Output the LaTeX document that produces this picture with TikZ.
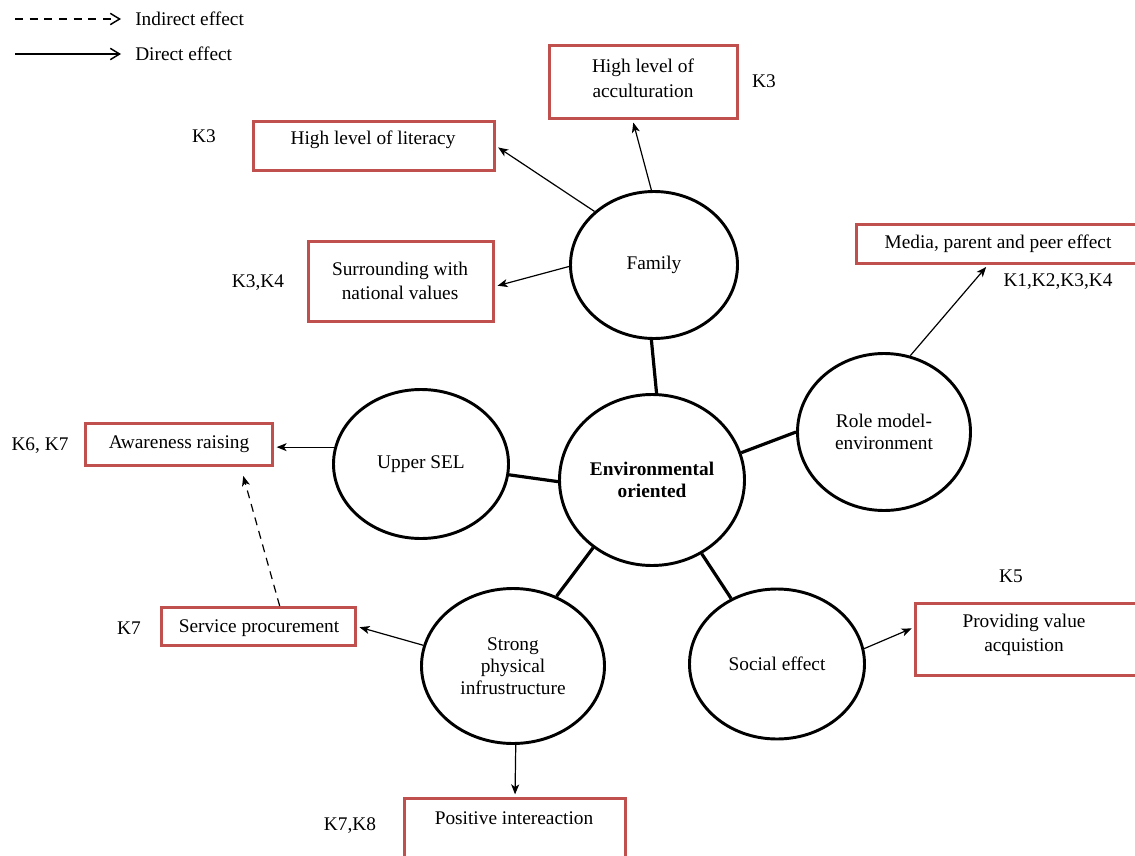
\documentclass[tikz,border=0pt]{standalone}
\usepackage{fontspec}
\setmainfont{Liberation Serif}
\usetikzlibrary{arrows.meta,shapes.geometric}
\definecolor{boxred}{HTML}{C0504D}
\begin{document}
\begin{tikzpicture}[x=0.75pt,y=-0.75pt,
  every node/.style={font=\fontsize{14.5}{18.5}\selectfont, inner sep=0pt},
  redbox/.style={draw=boxred, line width=2.2pt, rectangle, fill=white},
  circ/.style={draw, ellipse, line width=2.2pt, fill=white, align=center, font=\fontsize{14.5}{17}\selectfont},
  txt/.style={align=center},
  klabel/.style={},
  link/.style={line width=2.4pt},
  effect/.style={line width=0.9pt, -{Stealth[length=7.5pt,width=6pt,inset=2pt]}, shorten >=2pt},
  indirect/.style={effect, dash pattern=on 6pt off 4.5pt, shorten >=7pt},
  legline/.style={line width=1.1pt, -{Straight Barb[length=7pt,width=8.5pt]}},
  legdash/.style={legline, dash pattern=on 6pt off 5pt}
]
\useasboundingbox (0,0) rectangle (1135,856);

% legend
\coordinate (la) at (15,19);
\coordinate (lb) at (121,19);
\coordinate (lc) at (15,54);
\coordinate (ld) at (121,54);
\draw[legdash] (la) -- (lb);
\draw[legline] (lc) -- (ld);
\node[anchor=west] (lt1) at (135,19) {Indirect effect};
\node[anchor=west] (lt2) at (135,54) {Direct effect};

% ellipses
\node[circ, minimum width=125.25pt, minimum height=110.25pt] (family) at (654,265) {Family};
\node[circ, minimum width=138.75pt, minimum height=128.25pt, font=\fontsize{14.5}{17}\selectfont\bfseries] (env) at (652,480) {Environmental\\oriented};
\node[circ, minimum width=131.25pt, minimum height=111.75pt] (upper) at (421,464) {Upper SEL};
\node[circ, minimum width=129.75pt, minimum height=117.75pt] (role) at (884,432) {Role model-\\environment};
\node[circ, minimum width=137.25pt, minimum height=116.25pt, font=\fontsize{14.5}{16.5}\selectfont] (strong) at (513,666) {Strong\\physical\\infrustructure};
\node[circ, minimum width=131.25pt, minimum height=112.5pt] (social) at (777,664) {Social effect};

% thick links
\draw[link] (family.268) -- (env.87);
\draw[link] (upper.-7) -- (env.181);
\draw[link] (role.180) -- (env.17);
\draw[link] (strong.58) -- (env.229);
\draw[link] (social.125) -- (env.-56);

% boxes
\node[redbox, minimum width=141pt, minimum height=54.75pt] (acc) at (643.5,82) {};
\node[txt] (acct) at (643,78) {High level of\\acculturation};
\node[redbox, minimum width=180.75pt, minimum height=36.75pt] (lit) at (374,146) {};
\node[txt] (litt) at (373,140) {High level of literacy};
\node[redbox, minimum width=138.75pt, minimum height=60pt] (sur) at (401,281.5) {};
\node[txt] (surt) at (400,281) {Surrounding with\\national values};
\node[redbox, minimum width=215.25pt, minimum height=29.25pt] (media) at (1000,244) {};
\node[txt] (mediat) at (998,244) {Media, parent and peer effect};
\node[redbox, minimum width=140.25pt, minimum height=31.5pt] (aware) at (179,444.5) {};
\node[txt] (awaret) at (179,444) {Awareness raising};
\node[redbox, minimum width=145.5pt, minimum height=28.5pt] (serv) at (258.5,626.5) {};
\node[txt] (servt) at (259,628) {Service procurement};
\node[redbox, minimum width=171pt, minimum height=54pt] (prov) at (1029.5,639.5) {};
\node[txt] (provt) at (1024,635) {Providing value\\acquistion};
\node[redbox, minimum width=165.75pt, minimum height=52.5pt] (pos) at (515,833.5) {};
\node[txt] (post) at (514,818) {Positive intereaction};

% K labels
\node[klabel] (k1) at (764,81) {K3};
\node[klabel] (k2) at (204,136) {K3};
\node[klabel] (k3) at (258,283) {K3,K4};
\node[klabel] (k4) at (1058,282) {K1,K2,K3,K4};
\node[klabel] (k5) at (40,446) {K6, K7};
\node[klabel] (k6) at (129,628) {K7};
\node[klabel] (k7) at (1011,576) {K5};
\node[klabel] (k8) at (350,826) {K7,K8};

% effect arrows
\draw[effect] (family.138) -- (lit.east);
\draw[effect] (family.92) -- (acc.254);
\draw[effect] (family.181) -- (sur.-3);
\draw[effect] (role.71) -- (media.240);
\draw[effect] (upper.169) -- (upper.169 -| aware.east);
\draw[effect] (strong.167) -- (serv.east);
\draw[effect] (social.10) -- (prov.174);
\draw[effect] (strong.272) -- (pos.north);
\draw[indirect] (serv.44) -- (aware.-20);
\end{tikzpicture}
\end{document}
